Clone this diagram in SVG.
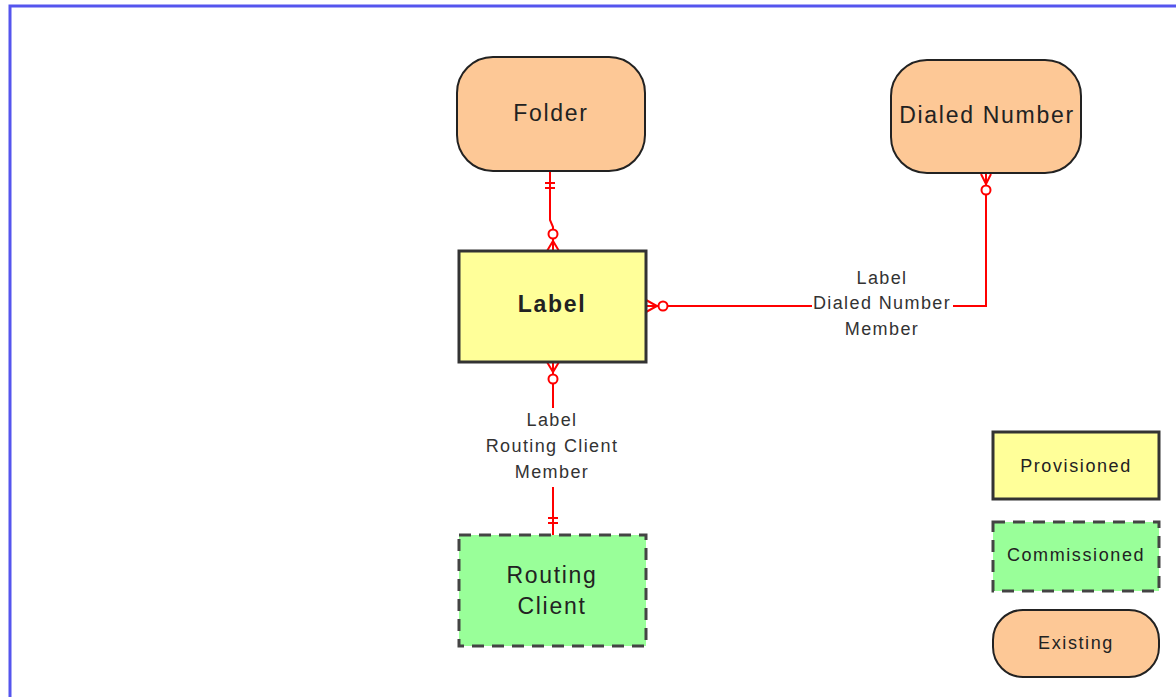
<svg xmlns="http://www.w3.org/2000/svg" width="1176" height="697" viewBox="0 0 1176 697">
<style>
.existing{fill:#fdc896;stroke:#222;stroke-width:2}
.prov{fill:#ffff99;stroke:#333;stroke-width:3}
.comm{fill:#99ff99;stroke:#444;stroke-width:3;stroke-dasharray:12,8}
.t{font-family:"Liberation Sans",Arial,sans-serif;fill:#222;text-anchor:middle}
.big{font-size:23px;letter-spacing:1.7px}
.lg{font-size:18px;letter-spacing:1.6px}
.cl{font-size:18px;letter-spacing:1.4px;fill:#333}
.c{fill:none;stroke:#ff0000;stroke-width:2}
.o{fill:#fff;stroke:#ff0000;stroke-width:2}
</style>
<rect x="10" y="6" width="1180" height="700" fill="#fff" stroke="#5555ee" stroke-width="3"/>
<g id="connectors">
<path class="c" d="M550,171 L550,220 L553,227 L553,251"/>
<path class="c" d="M545,183 H555 M545,188 H555"/>
<circle class="o" cx="553" cy="234" r="4.5"/>
<path class="c" d="M547,251 L553,241 L559,251"/>
<path class="c" d="M646,306 H812 M953,306 H986 V173"/>
<circle class="o" cx="663" cy="306" r="4.5"/>
<path class="c" d="M646,300 L657,306 L646,312"/>
<circle class="o" cx="986" cy="190" r="4.5"/>
<path class="c" d="M981,174 L986,184 L991,174"/>
<text class="t cl" x="882" y="284">Label</text>
<text class="t cl" x="882" y="309">Dialed Number</text>
<text class="t cl" x="882" y="335">Member</text>
<path class="c" d="M553,362 V408 M553,487 V535"/>
<path class="c" d="M547,362 L553,372 L559,362"/>
<circle class="o" cx="553" cy="379" r="4.5"/>
<path class="c" d="M548,518 H558 M548,523 H558"/>
<text class="t cl" x="552" y="426">Label</text>
<text class="t cl" x="552" y="452">Routing Client</text>
<text class="t cl" x="552" y="478">Member</text>
</g>
<g id="folder">
<rect class="existing" x="457" y="57" width="188" height="114" rx="36"/>
<text class="t big" x="551" y="121">Folder</text>
</g>
<g id="dialed-number">
<rect class="existing" x="891" y="60" width="190" height="113" rx="36"/>
<text class="t big" x="987" y="123">Dialed Number</text>
</g>
<g id="label">
<rect class="prov" x="459" y="251" width="187" height="111"/>
<text class="t big" x="552" y="312" font-weight="bold">Label</text>
</g>
<g id="routing-client">
<rect class="comm" x="459" y="535" width="187" height="111"/>
<text class="t big" x="552" y="583">Routing</text>
<text class="t big" x="552" y="614">Client</text>
</g>
<g id="legend-provisioned">
<rect class="prov" x="993" y="432" width="166" height="67"/>
<text class="t lg" x="1076" y="472">Provisioned</text>
</g>
<g id="legend-commissioned">
<rect class="comm" x="993" y="522" width="166" height="69"/>
<text class="t lg" x="1076" y="561">Commissioned</text>
</g>
<g id="legend-existing">
<rect class="existing" x="993" y="610" width="166" height="67" rx="30"/>
<text class="t lg" x="1076" y="649">Existing</text>
</g>
</svg>
